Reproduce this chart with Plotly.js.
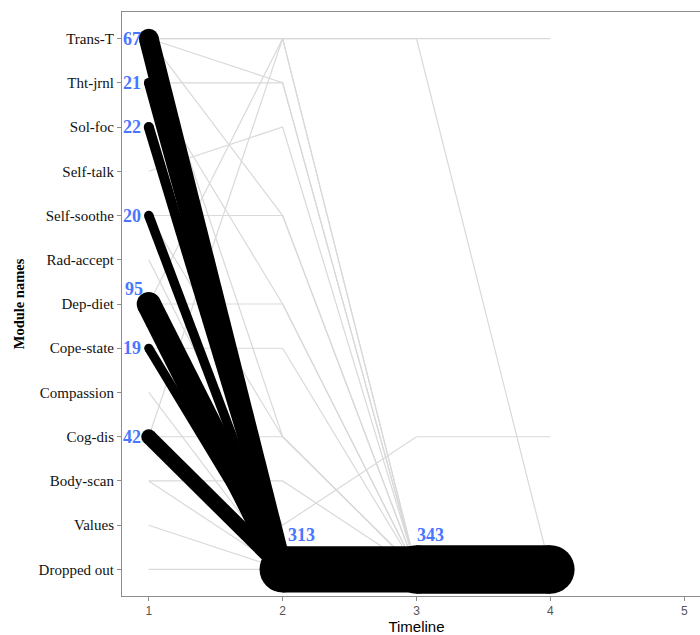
<!DOCTYPE html>
<html>
<head>
<meta charset="utf-8">
<script src="https://cdn.plot.ly/plotly-3.0.1.min.js"></script>
<style>
html, body { margin: 0; padding: 0; overflow: hidden; background: #ffffff; }
#chart { width: 711px; height: 635px; }
</style>
</head>
<body>
<div id="chart"></div>
<script>
// ---- data ----
// module categories, bottom to top
const modules = ["Dropped out", "Values", "Body-scan", "Cog-dis", "Compassion", "Cope-state",
  "Dep-diet", "Rad-accept", "Self-soothe", "Self-talk", "Sol-foc", "Tht-jrnl", "Trans-T"];
const timeTicks = [1, 2, 3, 4, 5];

// modules at time 1 whose participants dropped out at time 2 (thick black)
const dropFrom = ["Trans-T", "Tht-jrnl", "Sol-foc", "Self-soothe", "Dep-diet", "Cope-state", "Cog-dis"];
const dropCounts = [67, 21, 22, 20, 95, 19, 42];

// cumulative dropped-out totals at time 2 and time 3
const droppedTimes = [2, 3];
const droppedTotals = [313, 343];

// individual trajectories (module at time 1, 2, 3, ...) drawn in grey
const greyPaths = [
  ["Trans-T", "Trans-T", "Trans-T", "Trans-T"],
  ["Trans-T", "Trans-T", "Trans-T", "Dropped out"],
  ["Trans-T", "Tht-jrnl", "Dropped out"],
  ["Trans-T", "Self-soothe", "Dropped out"],
  ["Trans-T", "Cog-dis", "Dropped out"],
  ["Tht-jrnl", "Tht-jrnl", "Dropped out"],
  ["Tht-jrnl", "Dep-diet", "Dropped out"],
  ["Self-talk", "Sol-foc", "Dropped out"],
  ["Self-soothe", "Self-soothe", "Dropped out"],
  ["Self-soothe", "Cog-dis", "Dropped out"],
  ["Rad-accept", "Values", "Cog-dis", "Cog-dis"],
  ["Dep-diet", "Dep-diet", "Dropped out"],
  ["Dep-diet", "Trans-T", "Dropped out"],
  ["Cope-state", "Cope-state", "Dropped out"],
  ["Compassion", "Dropped out"],
  ["Cog-dis", "Cog-dis", "Dropped out"],
  ["Cog-dis", "Trans-T", "Dropped out"],
  ["Body-scan", "Body-scan", "Dropped out"],
  ["Body-scan", "Dropped out"],
  ["Values", "Dropped out"],
  ["Dropped out", "Dropped out"]
];

// ---- styling helpers ----
const BLUE = "#4876FF";
const GREY = "#d9d9d9";
function widthFor(n) { return 2.78 * Math.sqrt(n) - 3; }

const traces = [];

// grey trajectories
greyPaths.forEach(p => {
  traces.push({
    type: "scatter", mode: "lines",
    x: p.map((_, i) => i + 1), y: p,
    line: { color: GREY, width: 1.2 },
    hoverinfo: "skip", showlegend: false
  });
});

// thick black drop-out lines (round caps via end markers)
dropFrom.forEach((m, i) => {
  const w = widthFor(dropCounts[i]);
  traces.push({
    type: "scatter", mode: "lines+markers",
    x: [1, 2], y: [m, "Dropped out"],
    line: { color: "#000000", width: w },
    marker: { color: "#000000", size: w, line: { width: 0 } },
    hoverinfo: "skip", showlegend: false
  });
});

// dropped-out band along the bottom
droppedTimes.forEach((t, i) => {
  const w = widthFor(droppedTotals[i]);
  traces.push({
    type: "scatter", mode: "lines+markers",
    x: [t, t + 1], y: ["Dropped out", "Dropped out"],
    line: { color: "#000000", width: w },
    marker: { color: "#000000", size: w, line: { width: 0 } },
    hoverinfo: "skip", showlegend: false
  });
});

const annotations = [];
dropFrom.forEach((m, i) => {
  const above = m === "Dep-diet";
  annotations.push({
    x: 1, y: m, xref: "x", yref: "y",
    text: "<b>" + dropCounts[i] + "</b>",
    showarrow: false, xanchor: "right", yanchor: "middle",
    xshift: above ? -4 : -6, yshift: above ? 15 : 0,
    font: { family: "Liberation Serif, Times New Roman, serif", size: 18, color: BLUE }
  });
});
droppedTimes.forEach((t, i) => {
  annotations.push({
    x: t, y: "Dropped out", xref: "x", yref: "y",
    text: "<b>" + droppedTotals[i] + "</b>",
    showarrow: false, xanchor: "left", yanchor: "middle",
    xshift: i === 0 ? 3 : -2, yshift: 34,
    font: { family: "Liberation Serif, Times New Roman, serif", size: 18, color: BLUE }
  });
});

const layout = {
  width: 711, height: 635,
  margin: { l: 122, r: 0, t: 12, b: 39 },
  paper_bgcolor: "#ffffff", plot_bgcolor: "#ffffff",
  showlegend: false,
  xaxis: {
    range: [0.8, 5.2], tickvals: timeTicks, ticktext: timeTicks.map(String),
    showgrid: false, zeroline: false,
    showline: true, mirror: true, linecolor: "#8c8c8c", linewidth: 1,
    ticks: "outside", ticklen: 4, tickcolor: "#8c8c8c",
    tickfont: { family: "Liberation Sans, Arial, sans-serif", size: 12, color: "#555555" },
    title: { text: "Timeline", standoff: 2,
      font: { family: "Liberation Sans, Arial, sans-serif", size: 15, color: "#000000" } }
  },
  yaxis: {
    type: "category", categoryorder: "array", categoryarray: modules,
    range: [-0.6, 12.6],
    showgrid: false, zeroline: false,
    showline: true, mirror: true, linecolor: "#8c8c8c", linewidth: 1,
    ticks: "outside", ticklen: 4, tickcolor: "#8c8c8c",
    tickfont: { family: "Liberation Serif, Times New Roman, serif", size: 15, color: "#111111" },
    title: { text: "<b>Module names</b>", standoff: 10,
      font: { family: "Liberation Serif, Times New Roman, serif", size: 14.5, color: "#000000" } }
  },
  annotations: annotations
};

Plotly.newPlot("chart", traces, layout, { displayModeBar: false, staticPlot: true });
</script>
</body>
</html>
